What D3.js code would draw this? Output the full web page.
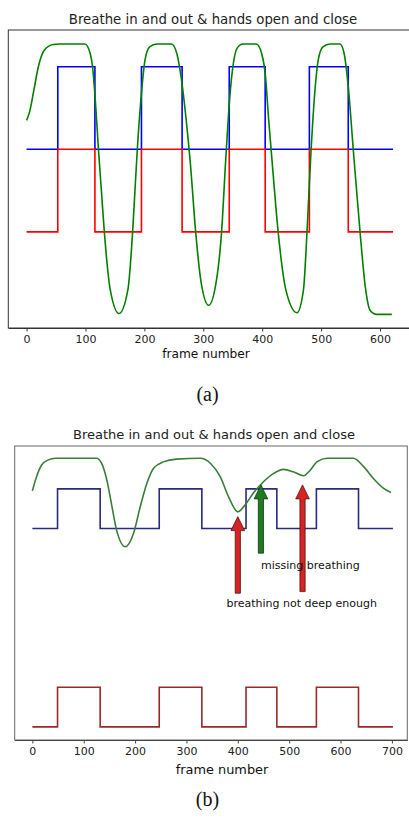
<html>
<head>
  <script src="https://d3js.org/d3.v7.min.js"></script>
  <style>
    body { margin: 0; background: #fff; }
    text { font-family: "DejaVu Sans", sans-serif; }
    text.caption { font-family: "Liberation Serif", "Times New Roman", serif; }
  </style>
</head>
<body>
<script>

// ---- panel (a) data ----
let stepFramesA = [0, 53, 116, 195, 264, 344, 405, 480, 546, 622];
let blueLevelsA = [1, 2, 1, 2, 1, 2, 1, 2, 1, 1];
let redLevelsA  = [0, 1, 0, 1, 0, 1, 0, 1, 0, 0];
let greenFramesA = [0, 5, 12, 20, 30, 45, 55, 99, 108, 112, 117, 122, 127, 132, 142, 157, 172, 180, 184, 188, 195, 201, 209, 221,
  246, 255, 263, 271, 278, 287, 296, 309, 322, 331, 338, 345, 351, 357, 367,
  390, 399, 405, 411, 417, 427, 440, 459, 470, 476, 482, 490, 495, 503, 515,
  532, 539, 546, 555, 566, 575, 583, 594, 620];
let greenValuesA = [1.35, 1.45, 1.7, 2.0, 2.2, 2.27, 2.275, 2.275, 2.16, 2.0, 1.56, 1.0, 0.5, 0, -0.7, -0.99, -0.7, 0, 0.5, 1.0, 1.68, 2.08, 2.24, 2.275,
  2.275, 2.16, 1.84, 1.35, 0.83, 0, -0.6, -0.89, -0.6, 0, 0.87, 1.64, 2.04, 2.22, 2.275,
  2.275, 2.16, 1.92, 1.35, 0.83, 0, -0.7, -0.98, -0.7, 0, 0.87, 1.76, 2.08, 2.24, 2.275,
  2.275, 2.16, 1.76, 0.95, 0, -0.67, -0.95, -1.0, -1.0];
let ticksA = [0, 100, 200, 300, 400, 500, 600];

// ---- panel (b) data ----
let stepFramesB = [0, 49, 132, 247, 330, 416, 476, 553, 635, 702];
let blueLevelsB = [5, 6, 5, 6, 5, 6, 5, 6, 5, 5];
let redLevelsB  = [0, 1, 0, 1, 0, 1, 0, 1, 0, 0];
let greenFramesB = [0, 8, 18, 31, 45, 125, 135, 145, 155, 164, 181, 197, 210, 223, 236, 255, 281, 327,
  347, 366, 382, 400, 414, 430, 450, 470, 489, 508, 528, 541, 554, 574, 625, 645, 664, 684, 698];
let greenValuesB = [5.95, 6.30, 6.60, 6.73, 6.77, 6.77, 6.64, 6.22, 5.55, 4.96, 4.54, 4.88, 5.55, 6.14, 6.52, 6.68, 6.75, 6.77,
  6.64, 6.30, 5.80, 5.42, 5.59, 5.89, 6.18, 6.39, 6.49, 6.43, 6.33, 6.47, 6.68, 6.77, 6.77, 6.56, 6.26, 6.01, 5.91];
let ticksB = [0, 100, 200, 300, 400, 500, 600, 700];

let arrowFrames = [400, 445, 526];
let arrowTips   = [5.30, 6.10, 6.10];
let arrowTails  = [3.37, 4.38, 3.41];
let arrowKinds  = ["bad", "missing", "bad"];
let noteTexts  = ["missing breathing", "breathing not deep enough"];
let noteFrames = [445, 378];
let noteValues = [3.97, 3.03];

let title = "Breathe in and out & hands open and close";

let svg = d3.select("body").append("svg")
  .attr("width", 409)
  .attr("height", 819)
  .style("display", "block");

function zipPts(xs, ys) { return xs.map((x, i) => ({ x: x, y: ys[i] })); }

// ======== panel (a) ========
let xA = d3.scaleLinear().domain([-31, 653]).range([8.3, 411.3]);
let yA = d3.scaleLinear().domain([-1.165, 2.445]).range([328, 30]);

let gA = svg.append("g");

gA.append("text")
  .attr("x", 213).attr("y", 24)
  .attr("text-anchor", "middle")
  .attr("font-size", "13.3px")
  .attr("fill", "#222")
  .text(title);

// frame
gA.append("rect")
  .attr("x", xA.range()[0]).attr("y", yA.range()[1])
  .attr("width", xA.range()[1] - xA.range()[0])
  .attr("height", yA.range()[0] - yA.range()[1])
  .attr("fill", "none")
  .attr("stroke", "#333")
  .attr("stroke-width", 1);

let axA = gA.append("g")
  .attr("transform", "translate(0," + yA.range()[0] + ")")
  .call(d3.axisBottom(xA).tickValues(ticksA).tickSize(3.5).tickPadding(4).tickSizeOuter(0));
axA.select(".domain").attr("stroke", "#333");
axA.selectAll("line").attr("stroke", "#333");
axA.selectAll("text").attr("font-size", "11px").attr("fill", "#222");

gA.append("text")
  .attr("x", 206).attr("y", 358)
  .attr("text-anchor", "middle")
  .attr("font-size", "12.2px")
  .attr("fill", "#111")
  .text("frame number");

let stepA = d3.line().x(d => xA(d.x)).y(d => yA(d.y)).curve(d3.curveStepAfter);
let smoothA = d3.line().x(d => xA(d.x)).y(d => yA(d.y)).curve(d3.curveMonotoneX);

gA.append("path")
  .attr("d", stepA(zipPts(stepFramesA, blueLevelsA)))
  .attr("fill", "none").attr("stroke", "#0000ff").attr("stroke-width", 1.6);
gA.append("path")
  .attr("d", stepA(zipPts(stepFramesA, redLevelsA)))
  .attr("fill", "none").attr("stroke", "#ff0000").attr("stroke-width", 1.6);
gA.append("path")
  .attr("d", smoothA(zipPts(greenFramesA, greenValuesA)))
  .attr("fill", "none").attr("stroke", "#008000").attr("stroke-width", 1.6);

svg.append("text")
  .attr("class", "caption")
  .attr("x", 207.5).attr("y", 401)
  .attr("text-anchor", "middle")
  .attr("font-size", "20px")
  .attr("fill", "#111")
  .text("(a)");

// ======== panel (b) ========
let xB = d3.scaleLinear().domain([-34.4, 730]).range([14.7, 407.3]);
let yB = d3.scaleLinear().domain([-0.33, 7.08]).range([740, 446]);

let gB = svg.append("g");

gB.append("text")
  .attr("x", 214).attr("y", 438.5)
  .attr("text-anchor", "middle")
  .attr("font-size", "13px")
  .attr("fill", "#222")
  .text(title);

gB.append("rect")
  .attr("x", xB.range()[0]).attr("y", yB.range()[1])
  .attr("width", xB.range()[1] - xB.range()[0])
  .attr("height", yB.range()[0] - yB.range()[1])
  .attr("fill", "none")
  .attr("stroke", "#666")
  .attr("stroke-width", 1);

let axB = gB.append("g")
  .attr("transform", "translate(0," + yB.range()[0] + ")")
  .call(d3.axisBottom(xB).tickValues(ticksB).tickSize(3.5).tickPadding(4).tickSizeOuter(0));
axB.select(".domain").attr("stroke", "#444");
axB.selectAll("line").attr("stroke", "#444");
axB.selectAll("text").attr("font-size", "11px").attr("fill", "#222");

gB.append("text")
  .attr("x", 222).attr("y", 774)
  .attr("text-anchor", "middle")
  .attr("font-size", "12.9px")
  .attr("fill", "#111")
  .text("frame number");

let stepB = d3.line().x(d => xB(d.x)).y(d => yB(d.y)).curve(d3.curveStepAfter);
let smoothB = d3.line().x(d => xB(d.x)).y(d => yB(d.y)).curve(d3.curveMonotoneX);

gB.append("path")
  .attr("d", stepB(zipPts(stepFramesB, blueLevelsB)))
  .attr("fill", "none").attr("stroke", "#2a2a7e").attr("stroke-width", 1.6);
gB.append("path")
  .attr("d", stepB(zipPts(stepFramesB, redLevelsB)))
  .attr("fill", "none").attr("stroke", "#9a2a2a").attr("stroke-width", 1.6);
gB.append("path")
  .attr("d", smoothB(zipPts(greenFramesB, greenValuesB)))
  .attr("fill", "none").attr("stroke", "#3a7d3a").attr("stroke-width", 1.6);

// block arrows
function arrowPath(f, tip, tail) {
  let x = xB(f), yt = yB(tip), yb = yB(tail);
  let sw = 2.6, hw = 6.8, hl = 14;
  return "M" + (x - sw) + "," + yb +
    "L" + (x - sw) + "," + (yt + hl) +
    "L" + (x - hw) + "," + (yt + hl) +
    "L" + x + "," + yt +
    "L" + (x + hw) + "," + (yt + hl) +
    "L" + (x + sw) + "," + (yt + hl) +
    "L" + (x + sw) + "," + yb + "Z";
}

gB.selectAll(".arrow")
  .data(arrowFrames)
  .enter()
  .append("path")
  .attr("class", "arrow")
  .attr("d", (d, i) => arrowPath(d, arrowTips[i], arrowTails[i]))
  .attr("fill", (d, i) => arrowKinds[i] == "bad" ? "#d42424" : "#1f7a22")
  .attr("stroke", (d, i) => arrowKinds[i] == "bad" ? "#5a1010" : "#0f3a10")
  .attr("stroke-width", 0.8);

gB.selectAll(".note")
  .data(noteTexts)
  .enter()
  .append("text")
  .attr("class", "note")
  .attr("x", (d, i) => xB(noteFrames[i]))
  .attr("y", (d, i) => yB(noteValues[i]))
  .attr("font-size", "11px")
  .attr("fill", "#111")
  .text(d => d);

svg.append("text")
  .attr("class", "caption")
  .attr("x", 207.5).attr("y", 806)
  .attr("text-anchor", "middle")
  .attr("font-size", "20px")
  .attr("fill", "#111")
  .text("(b)");

</script>
</body>
</html>
